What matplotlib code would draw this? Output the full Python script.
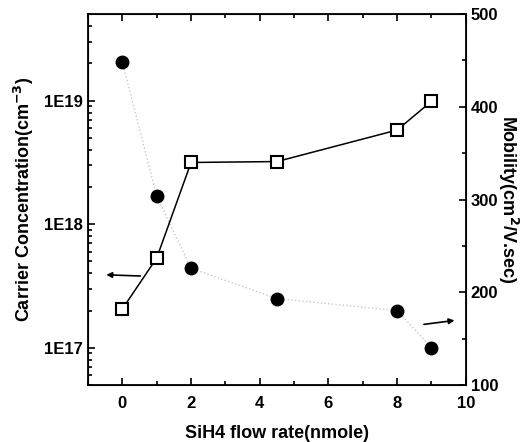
import matplotlib.pyplot as plt
from matplotlib.ticker import FixedLocator, NullFormatter, LogLocator

plt.rcParams['font.family'] = ['Liberation Sans', 'DejaVu Sans']
plt.rcParams['font.weight'] = 'bold'

flow = [0, 1, 2, 4.5, 8, 9]
carrier = [2.05e19, 1.68e18, 4.4e17, 2.5e17, 2.0e17, 1.0e17]
mobility = [182, 237, 340, 341, 375, 406]

fig = plt.figure(figsize=(5.24, 4.42), dpi=100)
ax = fig.add_axes([0.168, 0.129, 0.721, 0.839])

ax.plot(flow, carrier, linestyle=':', color='#c8c8c8', linewidth=1)
ax.plot(flow, carrier, linestyle='none', marker='o', markersize=9,
        color='black')
ax.set_yscale('log')
ax.set_ylim(5e16, 5e19)
ax.set_xlim(-1, 10)
ax.set_xticks([0, 2, 4, 6, 8, 10])
ax.xaxis.set_minor_locator(FixedLocator([-1, 1, 3, 5, 7, 9]))
ax.set_yticks([1e17, 1e18, 1e19])
ax.set_yticklabels(['1E17', '1E18', '1E19'])
ax.yaxis.set_minor_locator(LogLocator(base=10, subs=range(2, 10)))
ax.yaxis.set_minor_formatter(NullFormatter())
ax.tick_params(which='both', direction='in', top=True, labelsize=12, width=1.2)
ax.tick_params(which='major', length=5)
ax.tick_params(which='minor', length=3)
ax.tick_params(axis='x', pad=8)
ax.set_xlabel('SiH4 flow rate(nmole)', fontsize=13, fontweight='bold', labelpad=10)
ax.set_ylabel('Carrier Concentration(cm$^{\\mathbf{-3}}$)', fontsize=13,
              fontweight='bold', labelpad=6)
for s in ax.spines.values():
    s.set_linewidth(1.3)

ax2 = ax.twinx()
ax2.plot(flow, mobility, color='black', linewidth=1.1, marker='s',
         markersize=9, markerfacecolor='white', markeredgecolor='black',
         markeredgewidth=1.5)
ax2.set_ylim(100, 500)
ax2.set_yticks([100, 200, 300, 400, 500])
ax2.yaxis.set_minor_locator(FixedLocator([150, 250, 350, 450]))
ax2.tick_params(which='both', direction='in', labelsize=12, width=1.2)
ax2.tick_params(which='major', length=5)
ax2.tick_params(which='minor', length=3)
ax2.set_ylabel('Mobility(cm$^{\\mathbf{2}}$/V.sec)', fontsize=13,
               fontweight='bold', rotation=270, labelpad=16)

# direction arrows
ax.annotate('', xy=(-0.55, 3.9e17), xytext=(0.6, 3.8e17),
            arrowprops=dict(arrowstyle='-|>', color='black', lw=1.2,
                            mutation_scale=8))
ax2.annotate('', xy=(9.75, 170), xytext=(8.7, 165),
             arrowprops=dict(arrowstyle='-|>', color='black', lw=1.2,
                             mutation_scale=8))

fig.savefig('out.png', dpi=100)
